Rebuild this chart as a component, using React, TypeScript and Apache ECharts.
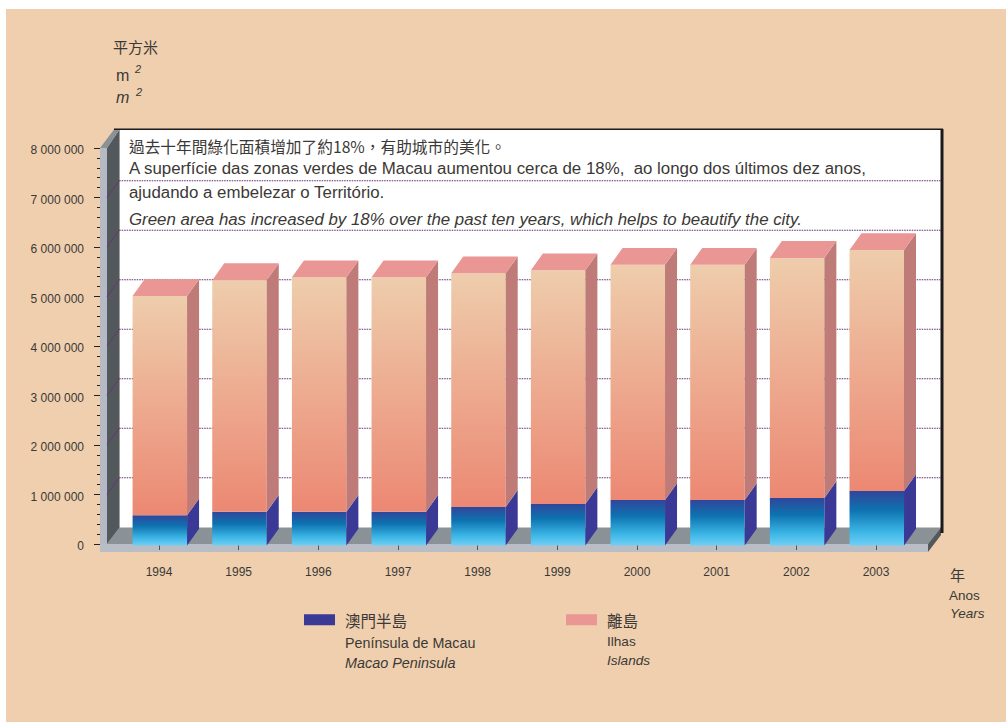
import React, { useEffect, useRef } from "react";
import * as echarts from "echarts";

const years = ["1994", "1995", "1996", "1997", "1998", "1999", "2000", "2001", "2002", "2003"];
const macaoPeninsula = [580000, 650000, 650000, 650000, 750000, 810000, 890000, 890000, 930000, 1070000];
const islands = [4430000, 4680000, 4740000, 4740000, 4720000, 4720000, 4750000, 4750000, 4850000, 4870000];
const gridValues = [1000000, 2000000, 3000000, 4000000, 5000000, 6000000, 7000000];

const noteZh = "過去十年間綠化面積增加了約18%\uFF0C有助城市的美化。";
const notePt1 = "A superfície das zonas verdes de Macau aumentou cerca de 18%,  ao longo dos últimos dez anos,";
const notePt2 = "ajudando a embelezar o Território.";
const noteEn = "Green area has increased by 18% over the past ten years, which helps to beautify the city.";

const LATIN = '"Liberation Sans", Arial, sans-serif';
const CJK = '"Noto Sans CJK TC", "Noto Sans CJK SC", sans-serif';
const INK = "#3b3936";
const DEPTH_X = 12;
const DEPTH_Y = 16.8;

const txt = (text: string, x: number, y: number, size: number, font = LATIN, italic = false, extra: any = {}) => ({
  type: "text",
  z: 50,
  silent: true,
  style: {
    text, x, y,
    fontSize: size,
    fontFamily: font,
    fontStyle: italic ? "italic" : "normal",
    fill: INK,
    verticalAlign: "middle",
    align: "left",
    ...extra,
  },
});

const poly = (points: number[][], fill: string) => ({
  type: "polygon",
  z: -5,
  silent: true,
  shape: { points },
  style: { fill },
});
const box = (x: number, y: number, width: number, height: number, fill: string, z = -5) => ({
  type: "rect",
  z,
  silent: true,
  shape: { x, y, width, height },
  style: { fill },
});

function barShapes(api: any, base: number, top: number, color: { front: any; side: string }, withTop: string | null) {
  const i = api.value(0);
  const band = api.size([1, 0])[0];
  const w = band * 0.684;
  const xc = api.coord([i, 0])[0] + 0.8;
  const x0 = xc - w / 2;
  const zeroY = api.coord([i, 0])[1];
  const yTop = api.coord([i, top])[1];
  const yBase = base === 0 ? zeroY + 1.5 : api.coord([i, base])[1];
  const kids: any[] = [
    {
      type: "rect",
      shape: { x: x0, y: yTop, width: w, height: yBase - yTop },
      style: { fill: color.front },
    },
    {
      type: "polygon",
      shape: {
        points: [
          [x0 + w, yBase],
          [x0 + w + DEPTH_X, yBase - DEPTH_Y],
          [x0 + w + DEPTH_X, yTop - DEPTH_Y],
          [x0 + w, yTop],
        ],
      },
      style: { fill: color.side },
    },
  ];
  if (withTop) {
    kids.push({
      type: "polygon",
      shape: {
        points: [
          [x0, yTop],
          [x0 + DEPTH_X, yTop - DEPTH_Y],
          [x0 + w + DEPTH_X, yTop - DEPTH_Y],
          [x0 + w, yTop],
        ],
      },
      style: { fill: withTop },
    });
  }
  return { type: "group", children: kids };
}

const blueFront = new echarts.graphic.LinearGradient(0, 0, 0, 1, [
  { offset: 0, color: "#31469b" },
  { offset: 0.35, color: "#0d72b0" },
  { offset: 0.75, color: "#3cb6e6" },
  { offset: 1, color: "#70cff5" },
]);
const peachFront = new echarts.graphic.LinearGradient(0, 0, 0, 1, [
  { offset: 0, color: "#eecdac" },
  { offset: 1, color: "#ec8873" },
]);

export default function App() {
  const ref = useRef<HTMLDivElement>(null);
  useEffect(() => {
    document.body.style.margin = "0";
    const chart = echarts.init(ref.current!, null, { renderer: "svg" });
    chart.setOption({
      animation: false,
      backgroundColor: "#ffffff",
      grid: { left: 119.2, top: 148, width: 796.6, height: 396 },
      xAxis: {
        type: "category",
        data: years,
        offset: 7,
        axisLine: { show: false },
        axisTick: { show: true, alignWithLabel: true, length: 6, lineStyle: { color: "#555", width: 1 } },
        axisLabel: { margin: 15, fontSize: 12, fontFamily: LATIN, color: INK },
        splitLine: { show: false },
      },
      yAxis: {
        type: "value",
        min: 0,
        max: 8000000,
        interval: 1000000,
        offset: 19.2,
        axisLine: { show: false },
        axisTick: { show: true, length: 6, lineStyle: { color: "#222", width: 1 } },
        minorTick: { show: true, splitNumber: 5, length: 3, lineStyle: { color: "#222", width: 1 } },
        splitLine: { show: false },
        axisLabel: {
          margin: 16,
          fontSize: 12,
          fontFamily: LATIN,
          color: INK,
          verticalAlign: "top",
          lineHeight: 4,
          formatter: (v: number) => String(v).replace(/\B(?=(\d{3})+$)/g, " "),
        },
      },
      legend: [
        {
          data: ["澳門半島"],
          left: 299,
          top: 607,
          icon: "rect",
          itemWidth: 31,
          itemHeight: 11,
          selectedMode: false,
          textStyle: { fontFamily: CJK, fontSize: 15.5, color: INK, padding: [0, 0, 0, 5] },
        },
        {
          data: ["離島"],
          left: 561,
          top: 607,
          icon: "rect",
          itemWidth: 31,
          itemHeight: 11,
          selectedMode: false,
          textStyle: { fontFamily: CJK, fontSize: 15.5, color: INK, padding: [0, 0, 0, 5] },
        },
      ],
      graphic: {
        elements: [
          box(6, 9, 1000, 713, "#efcfae", -10),
          // back wall
          box(119.5, 129, 821.5, 399, "#ffffff", -8),
          // floor and walls
          poly([[107, 544], [119.5, 527.5], [941, 527.5], [928, 544]], "#8a9297"),
          poly([[107, 148], [119.5, 129.5], [119.5, 527.5], [107, 544]], "#52585b"),
          poly([[100, 148], [107, 148], [119.5, 129.5], [114, 129.5]], "#8a9297"),
          box(100, 148, 7, 404, "#b5bac4"),
          box(100, 544, 828, 8, "#b9bdc6"),
          poly([[928, 544], [941, 527.5], [941, 535], [928, 552]], "#52585b"),
          box(114, 128.5, 829, 1.5, "#1c1a1a"),
          box(940.5, 129, 3, 404, "#1c1a1a"),
          // note
          txt(noteZh, 129, 146, 15.7, CJK),
          txt(notePt1, 129, 168, 16.85),
          txt(notePt2, 129, 192, 16.85),
          txt(noteEn, 129, 219, 16.85, LATIN, true),
          // y unit
          txt("平方米", 113, 46, 15, CJK),
          txt("m", 116, 75, 16),
          txt("2", 135, 69, 11, LATIN, true),
          txt("m", 116, 97, 16, LATIN, true),
          txt("2", 136, 92, 11, LATIN, true),
          // x unit
          txt("年", 950, 574, 15, CJK),
          txt("Anos", 949, 595, 13.5),
          txt("Years", 950, 613, 13.5, LATIN, true),
          // legend lines
          txt("Península de Macau", 345, 643, 14.3),
          txt("Macao Peninsula", 345, 663, 14.4, LATIN, true),
          txt("Ilhas", 607, 641, 13.6),
          txt("Islands", 607, 660, 13.6, LATIN, true),
        ],
      },
      series: [
        {
          type: "custom",
          name: "grid",
          z: 1,
          silent: true,
          data: gridValues.map((v) => [0, v]),
          renderItem: (params: any, api: any) => {
            const y = api.coord([0, api.value(1)])[1];
            const cs = params.coordSys;
            const xB = cs.x;
            return {
              type: "group",
              children: [
                {
                  type: "line",
                  shape: { x1: 107, y1: y, x2: xB, y2: y - DEPTH_Y },
                  style: { stroke: "#6b2f78", lineWidth: 0.8 },
                },
                {
                  type: "line",
                  shape: { x1: xB, y1: y - DEPTH_Y, x2: cs.x + cs.width + 25, y2: y - DEPTH_Y },
                  style: { stroke: "#5f2a6e", lineWidth: 1.1, lineDash: [1.5, 1] },
                },
              ],
            };
          },
        },
        {
          type: "custom",
          name: "澳門半島",
          z: 3,
          silent: true,
          itemStyle: { color: "#3a3a96" },
          data: years.map((_, i) => [i, macaoPeninsula[i]]),
          renderItem: (_: any, api: any) =>
            barShapes(api, 0, api.value(1), { front: blueFront, side: "#3a3a96" }, null),
        },
        {
          type: "custom",
          name: "離島",
          z: 3,
          silent: true,
          itemStyle: { color: "#e99694" },
          data: years.map((_, i) => [i, macaoPeninsula[i], macaoPeninsula[i] + islands[i]]),
          renderItem: (_: any, api: any) =>
            barShapes(api, api.value(1), api.value(2), { front: peachFront, side: "#be7b78" }, "#e99694"),
        },
      ],
    });
    return () => chart.dispose();
  }, []);
  return <div ref={ref} style={{ width: 1006, height: 722 }} />;
}
